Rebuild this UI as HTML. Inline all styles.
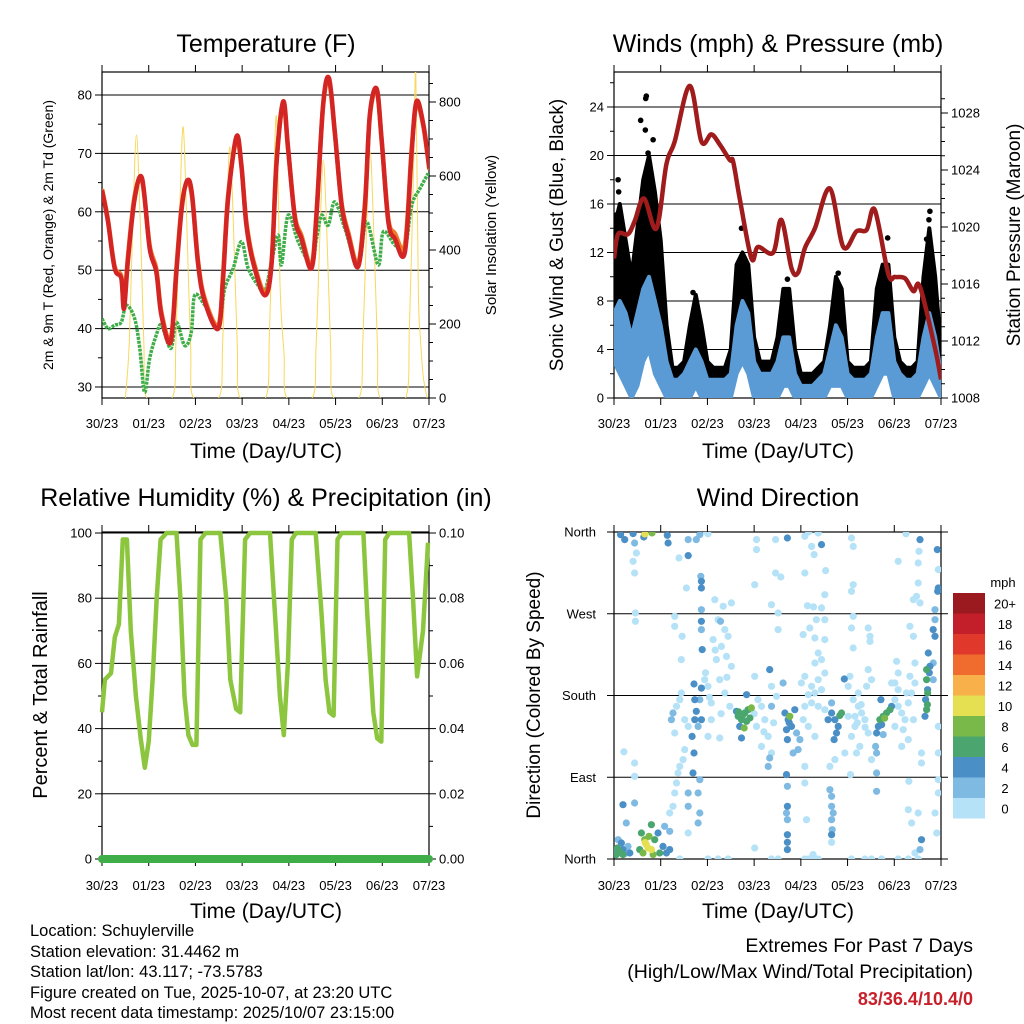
<!DOCTYPE html>
<html><head><meta charset="utf-8"><title>Schuylerville Weather</title>
<style>
html,body{margin:0;padding:0;background:#fff;}
svg{display:block;font-family:"Liberation Sans",Arial,sans-serif;}
</style></head>
<body>
<svg id="chart" xmlns="http://www.w3.org/2000/svg" width="1024" height="1024" viewBox="0 0 1024 1024">
<rect x="0" y="0" width="1024" height="1024" fill="#fff"/>
<defs>
<clipPath id="cT"><rect x="102" y="72" width="327" height="326"/></clipPath>
<clipPath id="cW"><rect x="614" y="72" width="327" height="326"/></clipPath>
<clipPath id="cR"><rect x="102" y="532" width="327" height="327"/></clipPath>
<clipPath id="cD"><rect x="614" y="532" width="327" height="327"/></clipPath>
</defs>
<text x="266" y="52" font-size="25" text-anchor="middle">Temperature (F)</text>
<text x="778" y="52" font-size="25" text-anchor="middle">Winds (mph) &amp; Pressure (mb)</text>
<text x="266" y="506" font-size="25" text-anchor="middle">Relative Humidity (%) &amp; Precipitation (in)</text>
<text x="778" y="506" font-size="25" text-anchor="middle">Wind Direction</text>

<text x="266" y="458" font-size="21" text-anchor="middle">Time (Day/UTC)</text>
<text x="778" y="458" font-size="21" text-anchor="middle">Time (Day/UTC)</text>
<text x="266" y="918" font-size="21" text-anchor="middle">Time (Day/UTC)</text>
<text x="778" y="918" font-size="21" text-anchor="middle">Time (Day/UTC)</text>

<text transform="translate(53,235) rotate(-90)" font-size="14" text-anchor="middle">2m &amp; 9m T (Red, Orange) &amp; 2m Td (Green)</text>
<text transform="translate(496,235) rotate(-90)" font-size="15" text-anchor="middle">Solar Insolation (Yellow)</text>
<text transform="translate(563,235) rotate(-90)" font-size="19" text-anchor="middle">Sonic Wind &amp; Gust (Blue, Black)</text>
<text transform="translate(1020,235) rotate(-90)" font-size="19" text-anchor="middle">Station Pressure (Maroon)</text>
<text transform="translate(47,695) rotate(-90)" font-size="20" text-anchor="middle">Percent &amp; Total Rainfall</text>
<text transform="translate(540,695) rotate(-90)" font-size="19" text-anchor="middle">Direction (Colored By Speed)</text>

<g font-size="16.5">
<text x="30" y="936">Location: Schuylerville</text>
<text x="30" y="957">Station elevation: 31.4462 m</text>
<text x="30" y="977">Station lat/lon: 43.117; -73.5783</text>
<text x="30" y="998">Figure created on Tue, 2025-10-07, at 23:20 UTC</text>
<text x="30" y="1018">Most recent data timestamp: 2025/10/07 23:15:00</text>
</g>
<g font-size="19.5" text-anchor="end">
<text x="973" y="952">Extremes For Past 7 Days</text>
<text x="973" y="978">(High/Low/Max Wind/Total Precipitation)</text>
<text x="973" y="1005" font-size="18" fill="#c8202a" font-weight="bold">83/36.4/10.4/0</text>
</g>
<g id="layer"></g>
</svg>
<script>
// ---------- DATA ----------
const dayLabels = ["30/23","01/23","02/23","03/23","04/23","05/23","06/23","07/23"];
const tempHours = [0,3.1,6.5,9.9,11.3,13.4,16.8,20.6,24.5,27.9,30.5,35.3,38.2,41.1,43.9,46.3,49.4,52.8,59.7,62.2,64.8,69.1,71.6,74.2,77.6,83.6,87.1,89.6,93.1,95.6,99.1,102.5,107.6,110.2,113.6,116.6,119.6,123.1,126.5,131.6,135.1,137.6,141.1,143.6,147.1,150.5,155.6,159.1,161.6,165.1,168.2];
const temp2m = [63.7,58.3,50.3,48.6,43.4,52,62.3,65.7,53.7,49.7,42.3,37.7,49.7,61,65.4,62.9,50.9,44.6,40,48.6,62.3,72.9,68,57.7,51.4,45.7,50.9,68,78.9,70.9,58.9,55.4,50.3,59.4,78.3,82.9,73.7,61.1,56,50.6,61.1,76.6,81.1,72.6,58.3,55.4,53.1,70.3,78.9,74.9,67.4];
const temp9m = [63.9,58.6,50.6,49,43.8,52.6,62.8,65.2,54.2,50.2,42.8,38.2,50.3,61.5,65,62.5,51.4,45.1,40.5,49.3,62.8,72.4,67.8,58.2,51.9,46.3,51.4,68.4,78.5,70.6,59.3,55.9,50.8,59.9,78.1,82.5,73.5,61.5,56.5,51.1,61.6,76.3,80.8,72.5,58.8,56.3,54.3,70.8,78.5,74.6,67.2];
const dewHours = [0,3.1,6.5,9.9,12.5,16.8,19.4,21.9,24.5,27.9,30.5,35.3,38.2,42.5,45.9,47.6,52.8,59.7,63.1,67.4,71.6,75.1,80.2,83.6,87.1,90.5,92.2,95.6,100.8,107.6,110.2,112.8,116.2,119.6,124.8,131.6,135.9,141.9,144.5,150.5,155.6,159.1,163.4,167.6];
const dewPoint = [41.7,40,40.6,41.1,44,41.7,36.6,29.1,34.9,38.9,40.6,36.6,41.1,37.1,39.4,45.7,44,40.6,46.9,50.3,54.9,50.3,47.4,46.3,51.4,56,50.9,59.4,54.9,50.9,55.4,59.4,57.7,61.7,57.1,50.9,58.3,50.9,56.6,54.3,53.7,61.1,64,66.6];
const solarHours = [12,14,16,17.7,19.5,21.5,23, 36,38,40,41.7,43.5,45.5,47, 60,62,64,65.7,67.5,69.5,71, 84,86,88,89.7,91.5,93.5,95, 108,110,112,113.7,115.5,117.5,119, 132,134,136,137.7,139.5,141.5,143, 156,158,160,161.2,162.5,163.5,165,167];
const solarWatts = [0,150,500,711,500,150,0, 0,160,520,733,480,140,0, 0,150,480,679,470,140,0, 0,170,540,757,300,120,0, 0,140,450,643,450,130,0, 0,150,470,670,470,140,0, 0,200,600,880,300,170,60,0];
const windHours = [0,3,6,9,12,15,18,21,24,27,30,33,36,39,42,45,48,51,54,57,60,63,66,69,72,75,78,81,84,87,90,93,96,99,102,105,108,111,114,117,120,123,126,129,132,135,138,141,144,147,150,153,156,159,162,165,168];
const windHigh = [7,8,7,5,7,9,10,8,6,3,1.5,1.5,2,3,4,3,1.5,1.5,1.5,1.5,2,6,8,7,3,2,2,2,3,5,5,2,1,1,1,1.5,2,4,6,5,2,1.5,1.5,1.5,2,5,7,7,3,2,1.5,1.5,2,5,7,5,2];
const windLow = [3,2,1,0,1,3,4,2,1,0,0,0,0,0,1,0,0,0,0,0,0,2,3,2,0,0,0,0,0,1,1,0,0,0,0,0,0,1,1,1,0,0,0,0,0,1,2,2,0,0,0,0,0,1,2,1,0];
const gustHigh = [14,16,13,10,14,18,20,17,13,6,2.5,2.5,3,6,8.5,6,3,2.5,2.5,2.5,4,11,12,11,5,3,3,3,5,9,9,4,2,2,2,2.5,3,6,10,9,3,2.5,2.5,2.5,3,9,11,11,5,3,2.5,2.5,3,10,14,10,4];
const gustLow = [5,5,4,3,6,8,8,6,4,2,1,1,1,2,3,2,1,1,1,1,1.5,5,6,5,2,1,1,1,2,3,3,1,0.5,0.5,0.5,1,1,2,4,3,1,1,1,1,1,3,5,5,2,1,1,1,1,4,6,3,1];
const gustOutHours = [16.6,16.3,13.7,16.1,17.5,20.1,2.1,2.4,1.2,65.5,40.6,89.1,115.2,140.6,162.3,161.8,160.6];
const gustOutMph = [24.9,24.7,22.9,22.1,20.2,21.3,18,17,15.1,14,8.7,9.8,10.3,13.2,15.4,14.7,13.1];
const pressHours = [0,2.1,7.2,10.6,15.4,21.8,26.9,31.2,38.9,44.9,50,54.3,59.5,61.2,64.6,70.6,74,81.8,86,91.2,94.6,98,103.2,110.9,117.8,124.6,129.8,134,140.9,144.3,149.5,153.8,157.2,164.9,168];
const pressMb = [1017.8,1019.5,1019.5,1020.4,1022,1019.9,1024.4,1026,1029.9,1026,1026.5,1025.8,1024.7,1024.6,1022,1017.8,1018.6,1018.2,1020.5,1017.1,1016.8,1018.5,1019.9,1022.7,1018.6,1019.7,1019.8,1021.2,1016.7,1016.5,1016.4,1015.5,1015.8,1011.5,1009.3];
const rhHours = [0,1.5,4.6,6.6,8.7,10.7,12.8,14.8,17.4,19.9,22,24,26,28.1,30.1,33.2,38.3,40.3,42.4,44.4,46.5,48.5,50.6,53.1,60.8,63.8,65.9,68.9,71,73.5,76.1,86.3,89.4,91.4,93.4,95.5,97.5,99.6,109.8,112.8,114.9,116.9,119,121,123.1,134.3,136.3,139.4,141.4,143.5,145.5,147.6,157.8,159.8,161.9,164.9,167.5];
const rhPct = [45,55,57,68,72,98,98,70,50,37,28,36,55,80,98,100,100,80,50,38,35,35,98,100,100,80,55,46,45,98,100,100,70,50,38,60,98,100,100,75,55,45,44,98,100,100,75,45,37,36,98,100,100,80,56,70,97];
const precipHours = [0,168];
const precipIn = [0,0];
const windDirObs = [
[0.3,6.6,4],[1.7,12.1,6],[2.9,8.4,6],[4.6,10.3,4],[6.3,6.6,2],[3.8,17.6,4],[2.1,21.3,2],[8.1,6.6,4],[7.2,13.9,2],[1.2,4.8,6],[4.6,4.8,6],[4.6,59.8,4],[6.3,39.6,2],[10.6,61.7,2],[10.6,91,0],[10.6,105.7,0],[5.1,118,0],
[14.1,28.6,6],[15.8,21.3,8],[17.5,12.1,10],[16.6,15.8,10],[19.2,10.3,10],[14.9,6.6,8],[20.9,21.3,6],[22.6,28.6,4],[25.2,13.9,4],[26.9,6.6,4],[28.6,10.3,4],[19.2,37.8,6],[23.5,6.6,6],[13.2,10.3,6],[20.1,4.8,8],[26,36,2],[28.6,30.5,2],[18,25,8],[16,18,10],
[3.4,357,4],[5.5,351.6,4],[9.8,358.2,4],[10.6,347.9,2],[11.5,336.9,0],[10.6,314.9,0],[11,270.8,0],[11,261.7,0],[9.8,327.7,0],[15.8,357.8,10],[19.5,359,8],[15.3,354.5,4],[27.4,356.4,4],[27.8,347.9,4],
[28.6,50.6,0],[30.3,58,0],[31.2,72.7,0],[32.1,83.7,0],[32.9,94.7,0],[33.8,102,0],[35.5,109.4,0],[36.3,120.4,0],[31.2,138.7,0],[29.5,153.4,2],[30.3,160.7,2],[32.1,168.1,0],[33.8,175.4,0],[34.6,182.8,0],[36.3,153.4,0],[38.1,146,0],[35,245.2,0],[34.6,219.5,0],[37.2,298.4,0],[31.2,267.2,0],[31.2,256.2,0],[33.4,331.4,0],
[40.6,94.7,4],[41.1,116.7,4],[40.1,135,4],[41.5,153.4,4],[42.3,162.6,4],[41.5,175.4,4],[41.1,192.7,4],[44.9,188.2,4],[44.1,175.4,2],[43.2,146,2],[44.9,153.4,4],[43.2,72.7,2],[44.1,50.6,2],[43.2,39.6,2],[38.1,72.7,2],[38.1,58,2],[38.1,28.6,0],[44.1,87.3,2],[44.9,298.4,4],[44.9,305.7,4],[44.9,274.5,2],[44.9,252.5,2],[45.3,230.5,4],[44.9,261.7,4],[44.6,311.2,2],[38.1,351.6,2],[38.1,334,4],[42.3,351.6,2],[44.1,357.1,2],
[46.6,197.4,0],[48.3,190.1,0],[50,171.8,0],[52.6,219.5,0],[55.2,234.1,0],[56.9,252.5,0],[53.5,263.5,0],[58.6,245.2,0],[60.3,281.9,0],[56.1,278.2,0],[51.8,285.5,0],[54.3,197.4,0],[56.9,182.8,0],[59.5,168.1,0],[50,153.4,0],[54.3,133.2,0],[48.3,135,0],[60.3,212.1,0],[57.8,223.1,0],[50.9,241.5,0],[54.7,261.7,2],[47,205,0],[52,230,0],[58,200,0],[55,160,0],[49,178,0],
[63.8,157.1,6],[65.5,153.4,6],[67.2,160.7,6],[68.9,164.4,6],[70.6,166.3,8],[64.6,146,4],[66.9,144.2,8],[62.9,162.6,4],[68.1,151.6,6],[65.5,133.2,4],[68.1,180.9,4],[69.8,155.2,6],[66,158,6],[64,162,6],
[74,175.4,0],[75.8,168.1,0],[77.5,153.4,0],[79.2,135,0],[80.9,116.7,0],[75.8,124,0],[73.2,146,0],[72.3,201.1,0],[80.9,190.1,0],[83.5,179.1,0],[80,208.5,4],[86.9,193.8,2],[79.2,102,2],[80,111.2,2],[80.9,168.1,2],[77,140,0],[82,150,0],[72,160,0],
[87.8,160.7,4],[89.5,153.4,4],[91.2,146,4],[88.6,142.4,4],[90.3,157.1,8],[92.9,164.4,4],[93.8,138.7,2],[89.1,131.4,4],[95.5,131.4,2],[92,116.7,2],[94.6,120.4,2],[90,150,4],
[88.6,92.9,4],[89.1,80,2],[89.1,58,4],[88.6,50.6,2],[89.1,43.3,2],[89.1,26.8,4],[89.1,18.4,4],[89.1,10.3,4],[89.1,353.4,4],
[73.2,351.6,0],[73.2,340.6,0],[72.3,302,0],[83,351.6,0],[80.9,280,0],[84.3,270.8,0],[83,314.9,0],[85.7,310.5,0],[84.3,252.5,0],[98,355.3,0],[104.9,358.9,0],[101.5,344.2,0],[106.6,346.1,4],[102.8,335.1,0],[98,314.9,0],[108.7,317.5,0],[108.3,291,0],[106.6,276.4,0],[108.3,263.5,0],[99.4,278.9,0],[102.5,277.5,0],[100.6,254.3,0],[104,263.5,0],[97.2,247,0],[103.2,243.3,0],[108.3,241.5,0],[104.9,226.8,0],[103.2,215.8,0],[106.6,219.5,0],[108.3,204.8,0],[104.9,197.4,0],[101.5,190.1,0],[98,201.1,0],[96.3,193.8,0],[99.8,180.9,0],[103.2,182.8,0],[106.6,186.4,0],[101.5,171.8,0],[98,168.1,0],[104.9,168.1,0],[108.3,164.4,0],[97.2,153.4,0],[99.8,146,0],[103.2,135,0],[98,102,0],[98,83.7,0],[98.9,43.3,0],[110.9,102,0],[113.5,109.4,0],[122,353.4,0],[122.9,344.2,0],[122,294.7,0],[122.9,302,0],[122.9,267.2,0],[122,254.3,0],[122.9,232.3,0],[130.6,254.3,0],[131.5,245.2,0],[131.5,239.6,0],[146,327.7,0],[145.2,217.6,0],[146,204.8,0],[144.3,193.8,0],[142.6,193.8,0],
[111.8,160.7,4],[113.5,153.4,4],[115.2,146,4],[116.9,160.7,6],[114.3,138.7,4],[110,153.4,4],[113.1,131.4,4],[118.3,198.2,4],[111.8,171.8,2],[116,158,6],
[110.9,76.3,2],[111.8,69,2],[111.8,58,2],[112.6,50.6,2],[111.8,43.3,2],[112.1,32.3,2],[111.8,26.8,4],[111.8,18.4,0],
[120.3,190.1,0],[122.9,175.4,0],[125.5,168.1,0],[127.2,160.7,0],[128.9,153.4,0],[123.8,146,0],[122,135,0],[126.3,124,0],[130.6,138.7,0],[132.3,197.4,0],[129.8,190.1,0],[125.5,182.8,0],[121.2,201.1,0],[118.6,116.7,0],[124.6,116.7,0],[132.3,109.4,0],[121.5,92.9,0],[130.6,208.5,0],[120.3,157.1,0],[123.8,157.1,0],[127,170,0],[129,145,0],[125,150,0],
[136.6,153.4,6],[138.3,157.1,6],[140,160.7,6],[141.8,164.4,6],[137.5,147.9,4],[135.8,146,4],[142.6,168.1,4],[134.9,138.7,4],[134.4,124,2],[134.9,116.7,2],[138.3,136.9,2],[137.1,175.4,4],[134.9,94.7,2],[134.9,74.5,2],[139,155,8],
[144.3,175.4,0],[146,168.1,0],[147.8,160.7,0],[149.5,153.4,0],[151.2,171.8,0],[152.9,182.8,0],[154.6,193.8,0],[148.6,142.4,0],[151.2,131.4,0],[147.8,124,0],[153.8,153.4,0],[144.3,146,0],[150.3,182.8,0],[146,186.4,0],[152,201.1,0],[154.6,215.8,0],
[160.6,208.5,6],[160.6,197.4,6],[161.1,186.4,4],[160.1,175.4,4],[160.6,164.4,6],[161.5,226.8,4],[162.3,212.1,4],[159.8,157.1,4],[161.1,182.8,6],[164,215.8,2],[164,197.4,2],[164.9,263.5,2],[164,252.5,4],[164.9,245.2,4],[164.9,274.5,2],[166.3,294.7,4],[166.6,298.4,4],[166.1,340.6,4],[166.6,318.6,0],[157.2,351.6,4],[156.7,338.7,0],[156.3,325.9,0],[156.3,303.9,0],[153.8,285.5,0],[155.4,289.2,0],[157.2,281.9,0],[152,256.2,0],[153.8,245.2,0],[158,116.7,0],[158,105.7,0],[158,21.3,4],[157.2,10.3,2],[166.6,146,0],[166.6,116.7,0],[166.6,87.3,0],[166.6,72.7,0],[164.9,50.6,0],[165.8,28.6,0],[156.3,50.6,0],[152.9,39.6,0],[151.2,54.3,0],[151.5,85.5,0],[154.6,6.6,0],[161,170,6],[162,205,4],
[53.5,0,0],[58.6,0,0],[72.3,12.1,0],[80.9,0,0],[84.3,0,0],[98,0,0],[102.3,4.8,0],[104.9,0,0],[122,0,0],[128.9,0,0],[132.3,0,0],[137.5,0,0],[146,0,0],[151.2,0,0],[156.3,0,0],[33.8,0,0],[48.3,0,0],[100,0,0],[101,0,0],[103,0,0],
[47.5,360,0],[48.3,358,0],[100,360,0],[150,358,0]
];
const speedLabels = ["0","2","4","6","8","10","12","14","16","18","20+"];
const speedColors = ["#b5e2f7","#7fbae3","#4b8fc7","#4aa66e","#78b94a","#e4e052","#f7b04a","#f06c2e","#e0392b","#c21f2a","#9b1a1f"];

// ---------- HELPERS ----------
const NS = "http://www.w3.org/2000/svg";
const layer = document.getElementById("layer");
function mk(tag, attrs, parent){ const e=document.createElementNS(NS,tag); for(const k in attrs) e.setAttribute(k,attrs[k]); (parent||layer).appendChild(e); return e; }
function lin(d0,d1,r0,r1){ return v => r0 + (v-d0)*(r1-r0)/(d1-d0); }
function pts(xs,ys,fx,fy){ return xs.map((h,i)=>fx(h).toFixed(1)+","+fy(ys[i]).toFixed(1)).join(" "); }
function smooth(xs,ys,fx,fy){
  const P = xs.map((h,i)=>[fx(h),fy(ys[i])]);
  let d = "M"+P[0][0].toFixed(1)+","+P[0][1].toFixed(1);
  for(let i=0;i<P.length-1;i++){
    const p0=P[Math.max(0,i-1)], p1=P[i], p2=P[i+1], p3=P[Math.min(P.length-1,i+2)];
    const c1x=p1[0]+(p2[0]-p0[0])/6, c1y=p1[1]+(p2[1]-p0[1])/6;
    const c2x=p2[0]-(p3[0]-p1[0])/6, c2y=p2[1]-(p3[1]-p1[1])/6;
    d += " C"+c1x.toFixed(1)+","+c1y.toFixed(1)+" "+c2x.toFixed(1)+","+c2y.toFixed(1)+" "+p2[0].toFixed(1)+","+p2[1].toFixed(1);
  }
  return d;
}

const panels = {
  T:{L:102,R:429,T:72,B:398}, W:{L:614,R:941,T:72,B:398},
  R:{L:102,R:429,T:532,B:859}, D:{L:614,R:941,T:532,B:859}
};
function xs(p){ return lin(0,168,p.L,p.R); }

function frame(p, name, labY){
  const g = mk("g",{});
  
  
  const fx = xs(p);
  dayLabels.forEach((lab,i)=>{
    const x = fx(i*24);
    mk("line",{x1:x,x2:x,y1:p.B,y2:p.B+7,stroke:"#000","stroke-width":1},g);
    mk("line",{x1:x,x2:x,y1:p.T,y2:p.T-7,stroke:"#000","stroke-width":1},g);
    const t = mk("text",{x:x,y:labY,"font-size":13,"text-anchor":"middle"},g);
    t.textContent = lab;
    
    
  });
  return g;
}
function yAxis(g, p, side, scale, majors, minors, fmt, name){
  const x0 = side==="L"?p.L:p.R, dir = side==="L"?-1:1;
  minors.forEach(v=>{ const y=scale(v); mk("line",{x1:x0,x2:x0+dir*4,y1:y,y2:y,stroke:"#000","stroke-width":1},g); });
  majors.forEach(v=>{
    const y=scale(v);
    mk("line",{x1:x0,x2:x0+dir*7,y1:y,y2:y,stroke:"#000","stroke-width":1},g);
    if(fmt){
      const t = mk("text",{x:x0+dir*10,y:y+4.5,"font-size":13,"text-anchor":side==="L"?"end":"start"},g);
      t.textContent = fmt(v);
      
      
    }
  });
}
function grid(g,p,scale,vals){
  vals.forEach(v=>{ const y=scale(v); mk("line",{x1:p.L,x2:p.R,y1:y,y2:y,stroke:"#000","stroke-width":1},g); });
}
function box(g,p){ mk("rect",{x:p.L,y:p.T,width:p.R-p.L,height:p.B-p.T,fill:"none",stroke:"#000","stroke-width":1.2},g); }
function range(a,b,s){ const r=[]; for(let v=a; v<=b+1e-9; v+=s) r.push(+v.toFixed(4)); return r; }

// ---------- TEMPERATURE ----------
(function(){
  const p=panels.T, fx=xs(p), yT=lin(30,80,387,95), yS=lin(0,800,398,102);
  const g=frame(p,"temperature",428);
  grid(g,p,yT,[30,40,50,60,70,80]);
  yAxis(g,p,"L",yT,[30,40,50,60,70,80],[35,45,55,65,75],v=>v,"temperature-y");
  yAxis(g,p,"R",yS,[0,200,400,600,800],range(50,850,50).filter(v=>v%200),v=>v,"solar-y");
  const c=mk("g",{"clip-path":"url(#cT)"});
  const sol=mk("path",{d:smooth(solarHours,solarWatts,fx,yS),fill:"none",stroke:"#f7d85a","stroke-width":1},c);
  
  
  const dl=mk("path",{d:smooth(dewHours,dewPoint,fx,yT),fill:"none",stroke:"#3fae49","stroke-width":3.5,"stroke-dasharray":"3 1","stroke-linejoin":"round"},c);
  
  
  const o=mk("path",{d:smooth(tempHours,temp9m,fx,yT),fill:"none",stroke:"#f07a2a","stroke-width":4.5,"stroke-linejoin":"round"},c);
  
  
  const r=mk("path",{d:smooth(tempHours,temp2m,fx,yT),fill:"none",stroke:"#d42525","stroke-width":4.5,"stroke-linejoin":"round"},c);
  
  
  box(g,p);
})();

// ---------- WINDS ----------
(function(){
  const p=panels.W, fx=xs(p), yW=lin(0,24,398,107), yP=lin(1008,1028,398,113);
  const g=frame(p,"winds",428);
  grid(g,p,yW,[0,4,8,12,16,20,24]);
  yAxis(g,p,"L",yW,[0,4,8,12,16,20,24],[2,6,10,14,18,22,26],v=>v,"wind-y");
  yAxis(g,p,"R",yP,[1008,1012,1016,1020,1024,1028],range(1009,1029,1).filter(v=>(v-1008)%4),v=>v,"pressure-y");
  const c=mk("g",{"clip-path":"url(#cW)"});
  const top=windHours.map((h,i)=>fx(h).toFixed(1)+","+yW(gustHigh[i]).toFixed(1));
  const bot=windHours.map((h,i)=>fx(h).toFixed(1)+","+yW(gustLow[i]).toFixed(1)).reverse();
  const ga=mk("polygon",{points:top.concat(bot).join(" "),fill:"#000",stroke:"#000","stroke-width":4,"stroke-linejoin":"round"},c);
  
  
  gustOutHours.forEach((h,i)=>{
    const d=mk("circle",{cx:fx(h),cy:yW(gustOutMph[i]),r:2.8,fill:"#000"},c);
    
    
  });
  const wt=windHours.map((h,i)=>fx(h).toFixed(1)+","+yW(windHigh[i]).toFixed(1));
  const wb=windHours.map((h,i)=>fx(h).toFixed(1)+","+yW(windLow[i]).toFixed(1)).reverse();
  const wa=mk("polygon",{points:wt.concat(wb).join(" "),fill:"#5b9bd5",stroke:"#5b9bd5","stroke-width":4,"stroke-linejoin":"round"},c);
  
  
  const pl=mk("path",{d:smooth(pressHours,pressMb,fx,yP),fill:"none",stroke:"#a01c1c","stroke-width":4.5,"stroke-linejoin":"round"},c);
  
  
  box(g,p);
})();

// ---------- HUMIDITY ----------
(function(){
  const p=panels.R, fx=xs(p), yR=lin(0,100,859,533), yPr=lin(0,0.1,859,533);
  const g=frame(p,"humidity",890);
  grid(g,p,yR,[0,20,40,60,80,100]);
  yAxis(g,p,"L",yR,[0,20,40,60,80,100],[10,30,50,70,90],v=>v,"humidity-y");
  yAxis(g,p,"R",yPr,[0,0.02,0.04,0.06,0.08,0.1],[0.01,0.03,0.05,0.07,0.09],v=>v.toFixed(2),"precip-y");
  const c=mk("g",{});
  const pr=mk("polyline",{points:pts(precipHours,precipIn,fx,yPr),fill:"none",stroke:"#3fae49","stroke-width":8,"stroke-linecap":"round"},c);
  
  
  const rl=mk("polyline",{points:pts(rhHours,rhPct,fx,yR),fill:"none",stroke:"#8cc63f","stroke-width":4.5,"stroke-linejoin":"round"},c);
  
  
  box(g,p);
})();

// ---------- WIND DIRECTION ----------
(function(){
  const p=panels.D, fx=xs(p), yD=lin(0,360,859,532);
  const g=frame(p,"direction",890);
  grid(g,p,yD,[0,90,180,270,360]);
  const names=["North","East","South","West","North"];
  [0,90,180,270,360].forEach((v,i)=>{
    const y=yD(v);
    mk("line",{x1:p.L,x2:p.L-7,y1:y,y2:y,stroke:"#000"},g);
    mk("line",{x1:p.R,x2:p.R+7,y1:y,y2:y,stroke:"#000"},g);
    const t=mk("text",{x:p.L-18,y:y+4.5,"font-size":13,"text-anchor":"end"},g);
    t.textContent=names[i];
    
    
  });
  const c=mk("g",{"clip-path":"url(#cD)"});
  const sorted=windDirObs.slice().sort((a,b)=>a[2]-b[2]);
  sorted.forEach(o=>{
    const idx=Math.min(10,Math.floor(o[2]/2));
    const d=mk("circle",{cx:fx(o[0]).toFixed(1),cy:yD(o[1]).toFixed(1),r:3.6,fill:speedColors[idx]},c);
    
    
  });
  box(g,p);
  const cb=mk("g",{});
  
  
  const h=20.5, top=593;
  const lt=mk("text",{x:1003,y:587,"font-size":13,"text-anchor":"middle"},cb);
  lt.textContent="mph";
  
  
  for(let i=0;i<speedColors.length;i++){
    const k=speedColors.length-1-i, y=top+i*h;
    const r=mk("rect",{x:953,y:y,width:32,height:h,fill:speedColors[k]},cb);
    
    
    const t=mk("text",{x:1005,y:y+h/2+5,"font-size":13,"text-anchor":"middle"},cb);
    t.textContent=speedLabels[k];
    
    
  }
})();
</script>
</body></html>
